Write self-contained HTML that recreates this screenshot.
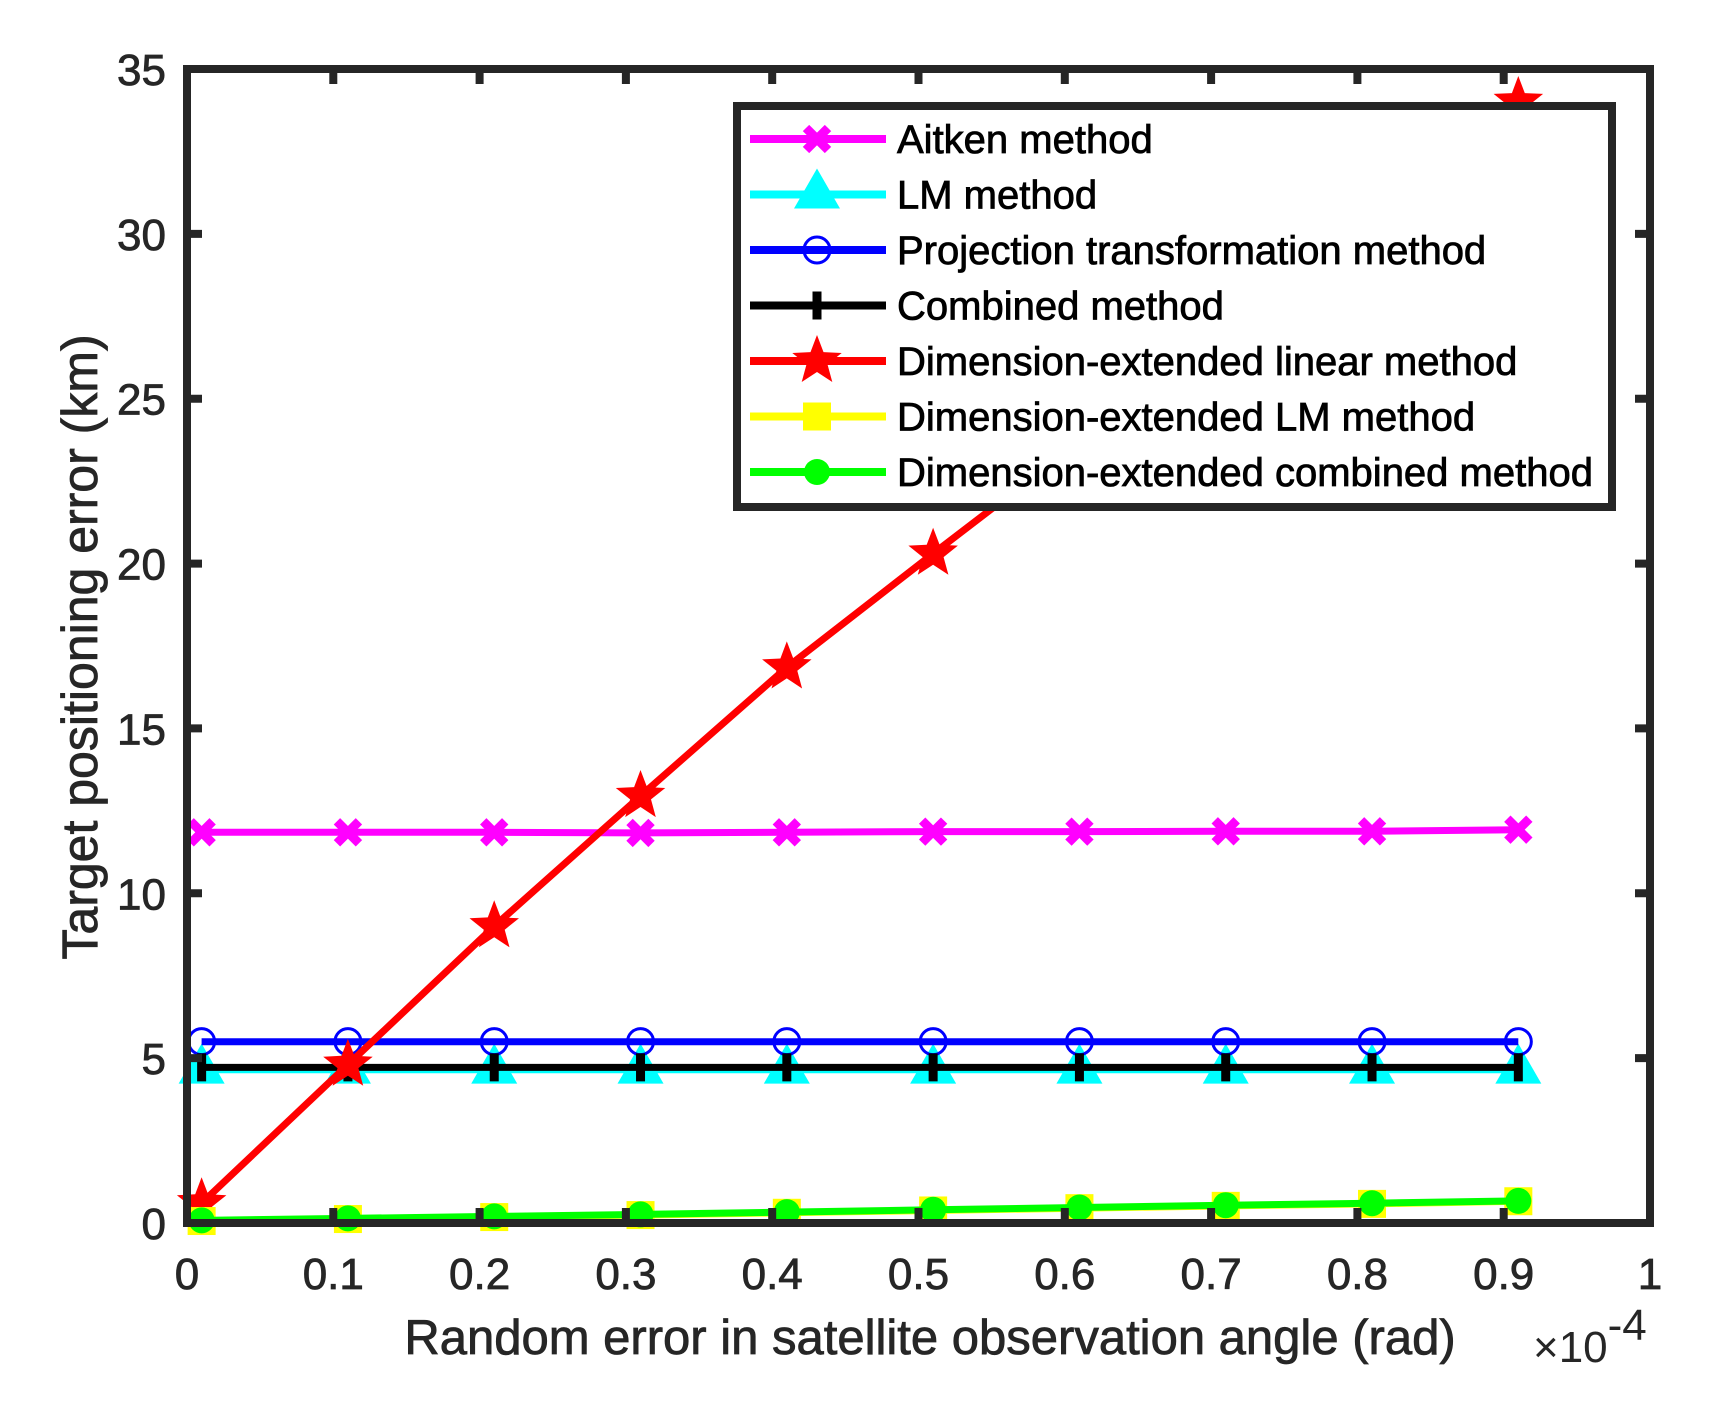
<!DOCTYPE html>
<html><head><meta charset="utf-8"><style>
html,body{margin:0;padding:0;background:#fff;}
svg{display:block;font-family:"Liberation Sans",Arial,sans-serif;}
</style></head><body>
<svg id="chart" width="1722" height="1414" viewBox="0 0 1722 1414" xmlns="http://www.w3.org/2000/svg">
<rect width="1722" height="1414" fill="#fff"/>
<g id="plot"></g>
<g id="axes"></g>
<g id="legend"></g>
</svg>
<script>
const xVals=[0.01,0.11,0.21,0.31,0.41,0.51,0.61,0.71,0.81,0.91];
const aitken=[11.85,11.85,11.85,11.83,11.85,11.87,11.87,11.88,11.88,11.93];
const lm=[4.65,4.65,4.65,4.65,4.65,4.65,4.65,4.65,4.65,4.65];
const projection=[5.5,5.5,5.5,5.5,5.5,5.5,5.5,5.5,5.5,5.5];
const combined=[4.72,4.72,4.72,4.72,4.72,4.72,4.72,4.72,4.72,4.72];
const delinear=[0.6,4.8,9.0,12.95,16.85,20.3,23.7,27.2,30.6,34.0];
const delm=[0.06,0.12,0.18,0.24,0.31,0.38,0.45,0.52,0.58,0.66];
const decombined=[0.08,0.14,0.2,0.26,0.33,0.4,0.47,0.54,0.6,0.67];
const xTicks=[0,0.1,0.2,0.3,0.4,0.5,0.6,0.7,0.8,0.9,1];
const xTickLabels=["0","0.1","0.2","0.3","0.4","0.5","0.6","0.7","0.8","0.9","1"];
const yTicks=[0,5,10,15,20,25,30,35];
const yTickLabels=["0","5","10","15","20","25","30","35"];
const legendLabels=["Aitken method","LM method","Projection transformation method","Combined method","Dimension-extended linear method","Dimension-extended LM method","Dimension-extended combined method"];

const L=187,R=1650,T=69,B=1223;
const sx=v=>L+(v-0)/(1-0)*(R-L);
const sy=v=>B-(v-0)/(35-0)*(B-T);
const NS="http://www.w3.org/2000/svg";
function mk(tag,attrs,parent){const e=document.createElementNS(NS,tag);for(const k in attrs)e.setAttribute(k,attrs[k]);parent.appendChild(e);return e;}
const plot=document.getElementById('plot'),axes=document.getElementById('axes'),leg=document.getElementById('legend');

function marker(type,color,cx,cy,g){
  let e;
  if(type==='x'){
    e=mk('path',{d:`M${cx-11},${cy-11}L${cx+11},${cy+11}M${cx-11},${cy+11}L${cx+11},${cy-11}`,stroke:color,'stroke-width':9,fill:'none'},g);
  }else if(type==='tri'){
    e=mk('path',{d:`M${cx},${cy-26}L${cx+23},${cy+14}L${cx-23},${cy+14}Z`,fill:color},g);
  }else if(type==='circle'){
    e=mk('circle',{cx:cx,cy:cy,r:13,fill:'none',stroke:color,'stroke-width':3},g);
  }else if(type==='plus'){
    e=mk('path',{d:`M${cx},${cy-14}V${cy+14}`,stroke:color,'stroke-width':9},g);
  }else if(type==='star'){
    let p='';for(let i=0;i<10;i++){const r=i%2?11:26;const a=-Math.PI/2+i*Math.PI/5;p+=(i?'L':'M')+(cx+r*Math.cos(a)).toFixed(1)+','+(cy+r*Math.sin(a)).toFixed(1);}
    e=mk('path',{d:p+'Z',fill:color},g);
  }else if(type==='square'){
    e=mk('rect',{x:cx-14,y:cy-14,width:28,height:28,fill:color},g);
  }else if(type==='dot'){
    e=mk('circle',{cx:cx,cy:cy,r:13,fill:color},g);
  }
  return e;
}
const series=[
 {name:'aitken',data:aitken,color:'#ff00ff',m:'x'},
 {name:'lm',data:lm,color:'#00ffff',m:'tri'},
 {name:'projection',data:projection,color:'#0000ff',m:'circle'},
 {name:'combined',data:combined,color:'#000000',m:'plus'},
 {name:'dimension-extended-linear',data:delinear,color:'#ff0000',m:'star'},
 {name:'dimension-extended-lm',data:delm,color:'#ffff00',m:'square'},
 {name:'dimension-extended-combined',data:decombined,color:'#00ff00',m:'dot'}
];
const drawOrder=[0,1,2,3,4,5,6];
drawOrder.forEach(i=>{
  const s=series[i];
  const g=mk('g',{},plot);
  
  
  const pts=s.data.map((v,j)=>sx(xVals[j]).toFixed(1)+','+sy(v).toFixed(1)).join(' ');
  const ln=mk('polyline',{points:pts,fill:'none',stroke:s.color,'stroke-width':7,'stroke-linejoin':'round'},g);
  
  
  s.data.forEach((v,j)=>{
    const m=marker(s.m,s.color,sx(xVals[j]),sy(v),g);
    
    
  });
});

const box=mk('rect',{x:L,y:T,width:R-L,height:B-T,fill:'none',stroke:'#262626','stroke-width':8},axes);


xTicks.forEach((v,i)=>{
  const x=sx(v);
  mk('path',{d:`M${x},${B}V${B-15}M${x},${T}V${T+15}`,stroke:'#262626','stroke-width':8},axes);
  const t=mk('text',{x:x,y:1289,'font-size':44,'text-anchor':'middle',fill:'#262626',stroke:'#262626','stroke-width':0.8},axes);
  t.textContent=xTickLabels[i];
  
  
});
yTicks.forEach((v,i)=>{
  const y=sy(v);
  mk('path',{d:`M${L},${y}H${L+15}M${R},${y}H${R-15}`,stroke:'#262626','stroke-width':8},axes);
  const t=mk('text',{x:166,y:y+16,'font-size':44,'text-anchor':'end',fill:'#262626',stroke:'#262626','stroke-width':0.8},axes);
  t.textContent=yTickLabels[i];
  
  
});
const xl=mk('text',{x:930,y:1354,'font-size':49,'text-anchor':'middle',fill:'#262626',stroke:'#262626','stroke-width':0.8},axes);
xl.textContent='Random error in satellite observation angle (rad)';


const yl=mk('text',{x:0,y:0,'font-size':50,'text-anchor':'middle',fill:'#262626',stroke:'#262626','stroke-width':0.8,transform:'translate(97,647) rotate(-90)'},axes);
yl.textContent='Target positioning error (km)';


const ex=mk('text',{x:1533,y:1362,'font-size':44,fill:'#262626'},axes);
ex.innerHTML='×10<tspan dy="-22" font-size="44">-4</tspan>';



const lb=mk('rect',{x:737,y:106,width:875,height:401,fill:'#fff',stroke:'#262626','stroke-width':8},leg);


series.forEach((s,i)=>{
  const y=139+i*55.5;
  const g=mk('g',{},leg);
  
  
  mk('line',{x1:750,y1:y,x2:886,y2:y,stroke:s.color,'stroke-width':8},g);
  marker(s.m,s.color,817,y,g);
  const t=mk('text',{x:897,y:y+14,'font-size':40,fill:'#000',stroke:'#000','stroke-width':0.8},g);
  t.textContent=legendLabels[i];
});
</script>
</body></html>
